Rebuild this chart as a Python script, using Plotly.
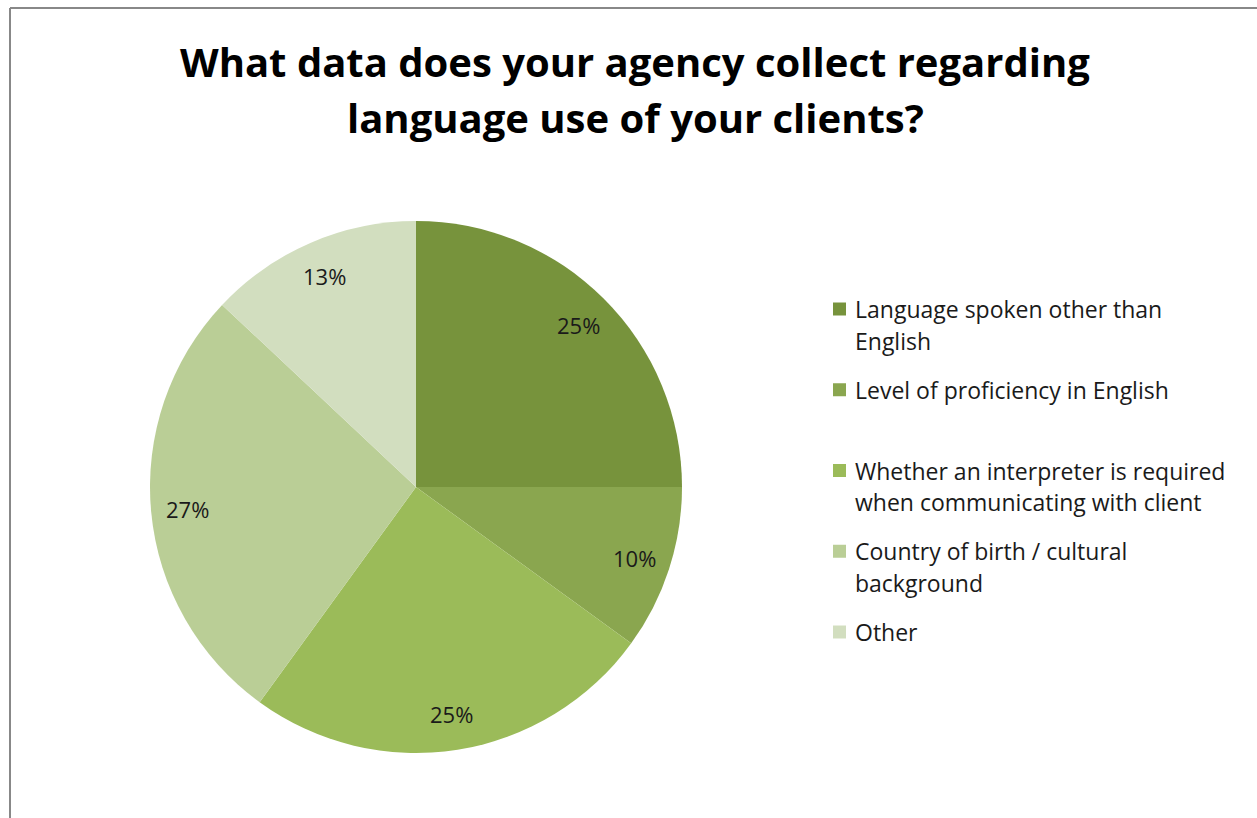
import math
import plotly.graph_objects as go

# Survey responses: share of agencies collecting each kind of language data
categories = [
    "Language spoken other than English",
    "Level of proficiency in English",
    "Whether an interpreter is required when communicating with client",
    "Country of birth / cultural background",
    "Other",
]
legend_lines = [
    ["Language spoken other than", "English"],
    ["Level of proficiency in English"],
    ["Whether an interpreter is required", "when communicating with client"],
    ["Country of birth / cultural", "background"],
    ["Other"],
]
shares = [25, 10, 25, 27, 13]
colors = ["#77933C", "#8AA64F", "#9BBB59", "#BACE96", "#D2DEBF"]

title_lines = [
    "What data does your agency collect regarding",
    "language use of your clients?",
]

W, H = 1257, 818
FONT = "Open Sans"

# pie geometry in pixels
cx, cy, R = 416, 487, 266


def px(x):
    return x / W


def py(y):
    return 1 - y / H


fig = go.Figure()
fig.add_trace(
    go.Pie(
        labels=categories,
        values=shares,
        sort=False,
        direction="clockwise",
        rotation=0,
        marker=dict(colors=colors, line=dict(width=0)),
        textinfo="none",
        hoverinfo="label+percent",
        showlegend=False,
        domain=dict(x=[px(cx - R), px(cx + R)], y=[py(cy + R), py(cy - R)]),
    )
)

annotations = []
shapes = []

# percentage labels near the outer edge of each slice
total = sum(shares)
acc = 0
for v in shares:
    mid = (acc + v / 2) / total * 2 * math.pi
    acc += v
    r = 0.863 * R
    lx = cx + r * math.sin(mid)
    ly = cy - r * math.cos(mid)
    annotations.append(
        dict(
            x=px(lx), y=py(ly), xref="paper", yref="paper",
            text=f"{round(v / total * 100)}%", showarrow=False,
            xanchor="center", yanchor="middle",
            font=dict(family=FONT, size=22, color="#1a1a1a"),
        )
    )

# legend: square key + wrapped text lines
leg_x, leg_y0, leg_step, line_h = 833, 309, 80.75, 32
for i, lines in enumerate(legend_lines):
    y0 = leg_y0 + i * leg_step
    shapes.append(
        dict(
            type="rect", xref="paper", yref="paper",
            x0=px(leg_x), x1=px(leg_x + 13), y0=py(y0 + 6.5), y1=py(y0 - 6.5),
            fillcolor=colors[i], line=dict(width=0),
        )
    )
    for k, t in enumerate(lines):
        annotations.append(
            dict(
                x=px(leg_x + 20), y=py(y0 + k * line_h), xref="paper", yref="paper",
                text=t, showarrow=False, xanchor="left", yanchor="middle",
                font=dict(family=FONT, size=23, color="#1a1a1a"),
            )
        )

# two-line bold title
for k, t in enumerate(title_lines):
    annotations.append(
        dict(
            x=px(635), y=py(61 + k * 57), xref="paper", yref="paper",
            text=f"<b>{t}</b>", showarrow=False, xanchor="center", yanchor="middle",
            font=dict(family=FONT, size=40, color="#000000"),
        )
    )

# chart-area frame (top and left edges visible)
shapes.append(
    dict(type="line", xref="paper", yref="paper",
         x0=px(10), x1=1.01, y0=py(8), y1=py(8), line=dict(color="#888888", width=2))
)
shapes.append(
    dict(type="line", xref="paper", yref="paper",
         x0=px(10), x1=px(10), y0=py(8), y1=-0.01, line=dict(color="#888888", width=2))
)

fig.update_layout(
    width=W, height=H,
    margin=dict(l=0, r=0, t=0, b=0),
    paper_bgcolor="white", plot_bgcolor="white",
    annotations=annotations, shapes=shapes,
    showlegend=False,
)

fig.write_html("out.html")
